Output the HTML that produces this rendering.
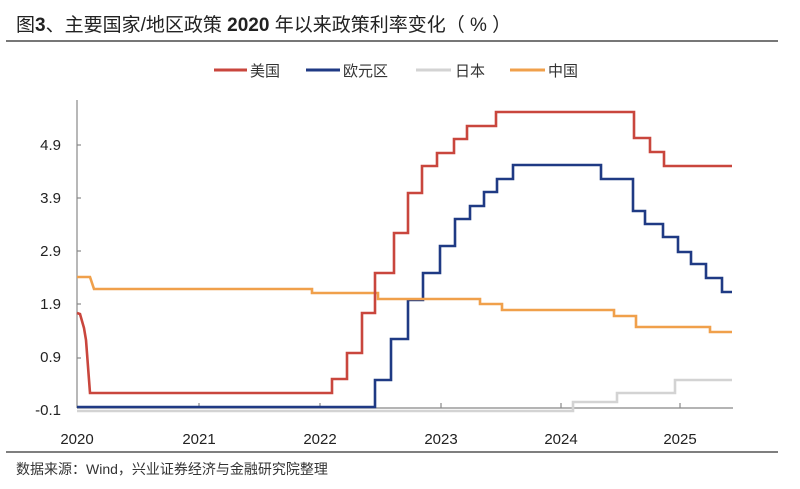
<!DOCTYPE html>
<html><head><meta charset="utf-8"><style>
body{margin:0;background:#fff;width:800px;height:484px;overflow:hidden;font-family:"Liberation Sans","Noto Sans CJK SC",sans-serif}
</style></head><body>
<svg width="800" height="484" xmlns="http://www.w3.org/2000/svg" font-family="Liberation Sans, Noto Sans CJK SC, sans-serif">
<text x="16" y="31" font-size="19" fill="#222">图<tspan font-weight="bold">3</tspan>、主要国家/地区政策 <tspan font-weight="bold">2020</tspan> 年以来政策利率变化（ % ）</text>
<line x1="6" y1="41" x2="778" y2="41" stroke="#777" stroke-width="2"/>
<g font-size="15" fill="#333">
<line x1="214" y1="70" x2="247" y2="70" stroke="#c9463d" stroke-width="3"/><text x="250" y="76">美国</text>
<line x1="306" y1="70" x2="340" y2="70" stroke="#1f3a84" stroke-width="3"/><text x="343" y="76">欧元区</text>
<line x1="416" y1="70" x2="451" y2="70" stroke="#d3d3d3" stroke-width="3"/><text x="455" y="76">日本</text>
<line x1="510" y1="70" x2="545" y2="70" stroke="#f0a04b" stroke-width="3"/><text x="548" y="76">中国</text>
</g>
<g font-size="15" fill="#222" text-anchor="end">
<text x="61" y="150">4.9</text><text x="61" y="203">3.9</text><text x="61" y="256">2.9</text><text x="61" y="309">1.9</text><text x="61" y="362">0.9</text><text x="61" y="415">-0.1</text>
</g>
<g stroke="#888" stroke-width="1.2">
<line x1="77" y1="100" x2="77" y2="408"/>
<line x1="77" y1="408" x2="733" y2="408"/>
<line x1="77" y1="145" x2="81" y2="145"/><line x1="77" y1="198" x2="81" y2="198"/><line x1="77" y1="251" x2="81" y2="251"/><line x1="77" y1="304" x2="81" y2="304"/><line x1="77" y1="358" x2="81" y2="358"/>
<line x1="199" y1="408" x2="199" y2="403"/><line x1="320" y1="408" x2="320" y2="403"/><line x1="441" y1="408" x2="441" y2="403"/><line x1="561" y1="408" x2="561" y2="403"/><line x1="680" y1="408" x2="680" y2="403"/>
</g>
<g font-size="15" fill="#222" text-anchor="middle">
<text x="77" y="444">2020</text><text x="199" y="444">2021</text><text x="320" y="444">2022</text><text x="441" y="444">2023</text><text x="561" y="444">2024</text><text x="680" y="444">2025</text>
</g>
<g fill="none" stroke-width="2.6">
<polyline stroke="#d3d3d3" points="77,411 573,411 573,402 617,402 617,393 675,393 675,380 732,380"/>
<polyline stroke="#1f3a84" points="77,407 375,407 375,380 391,380 391,339 408,339 408,300 423,300 423,273 440,273 440,246 455,246 455,219 470,219 470,206 484,206 484,192 497,192 497,179 513,179 513,165 601,165 601,179 633,179 633,211 645,211 645,224 663,224 663,237 678,237 678,252 691,252 691,264 706,264 706,278 722,278 722,292 732,292"/>
<polyline stroke="#f0a04b" points="77,277 90,277 94,289 312,289 312,293 378,293 378,299 480,299 480,304 502,304 502,310 614,310 614,316 636,316 636,327 710,327 710,332 732,332"/>
<polyline stroke="#c9463d" points="77,313 80,314 84,328 86,340 90,393 332,393 332,379 347,379 347,353 362,353 362,313 375,313 375,273 394,273 394,233 408,233 408,193 422,193 422,166 437,166 437,153 454,153 454,139 467,139 467,126 496,126 496,112 634,112 634,138 650,138 650,152 664,152 664,166 732,166"/>
</g>
<line x1="6" y1="452" x2="778" y2="452" stroke="#555" stroke-width="1.5"/>
<text x="16" y="474" font-size="14" fill="#333">数据来源：Wind，兴业证券经济与金融研究院整理</text>
</svg>
</body></html>
